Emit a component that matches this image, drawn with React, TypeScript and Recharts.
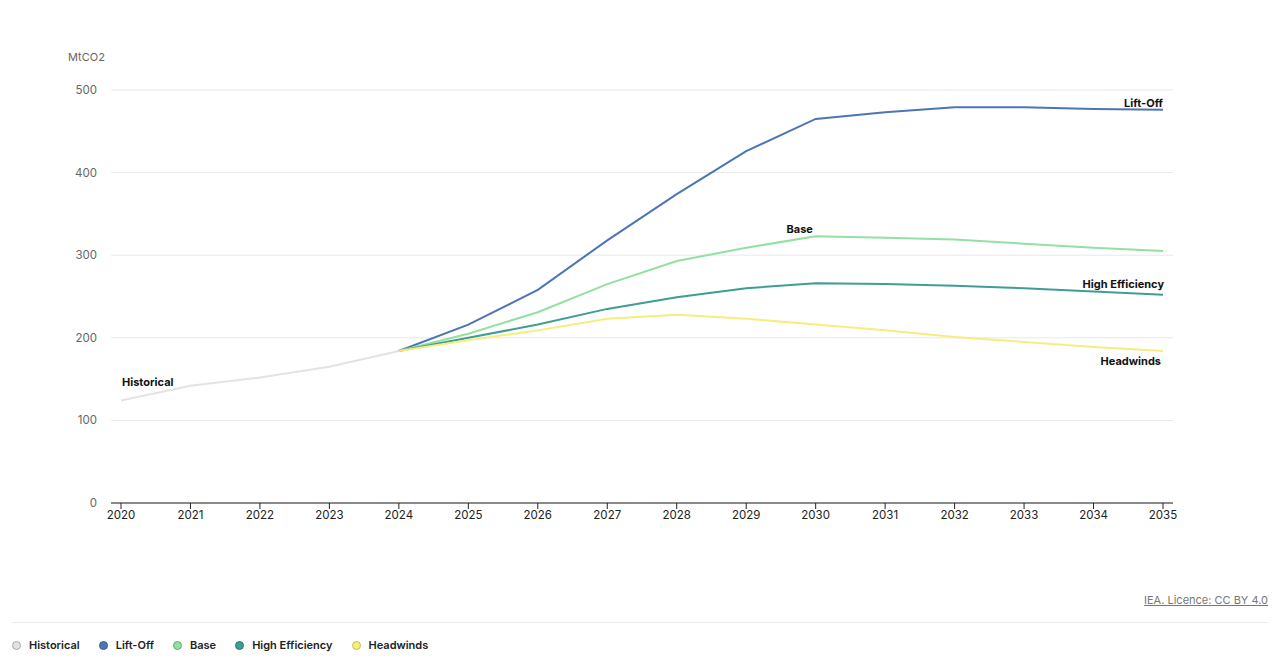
import React from "react";
import { LineChart, Line, XAxis, YAxis, CartesianGrid, Legend } from "recharts";

const years = [2020, 2021, 2022, 2023, 2024, 2025, 2026, 2027, 2028, 2029, 2030, 2031, 2032, 2033, 2034, 2035];
const historical = [124, 142, 152, 165, 184, null, null, null, null, null, null, null, null, null, null, null];
const liftOff = [null, null, null, null, 184, 216, 258, 318, 374, 426, 465, 473, 479, 479, 477, 476];
const base = [null, null, null, null, 184, 205, 231, 265, 293, 309, 323, 321, 319, 314, 309, 305];
const highEfficiency = [null, null, null, null, 184, 200, 216, 235, 249, 260, 266, 265, 263, 260, 256, 252];
const headwinds = [null, null, null, null, 184, 197, 209, 223, 228, 223, 216, 209, 201, 195, 189, 184];
const yTicks = [0, 100, 200, 300, 400, 500];

const data = years.map((y, i) => ({
  year: y,
  Historical: historical[i],
  "Lift-Off": liftOff[i],
  Base: base[i],
  "High Efficiency": highEfficiency[i],
  Headwinds: headwinds[i],
}));

const FONT = "Inter, 'Noto Sans', sans-serif";

const series = [
  { key: "Historical", color: "#e3e3e3", border: "#a8a8a8" },
  { key: "Lift-Off", color: "#4d75b3", border: "#3a5c94" },
  { key: "Base", color: "#93e0a0", border: "#5fae6c" },
  { key: "High Efficiency", color: "#3f9d92", border: "#2d7a70" },
  { key: "Headwinds", color: "#f6ee7c", border: "#c9bd45" },
];

const makeLabel = (text: string, idx: number, dx: number, dy: number, anchor: string) => (props: any) => {
  if (props.index !== idx) return null;
  return (
    <text
      x={props.x + dx}
      y={props.y + dy}
      textAnchor={anchor}
      fontFamily={FONT}
      fontSize={11}
      fontWeight={700}
      fill="#111"
    >
      {text}
    </text>
  );
};

const LegendContent = (props: any) => {
  const payload = [...(props.payload || [])].sort(
    (a: any, b: any) => series.findIndex((s) => s.key === a.value) - series.findIndex((s) => s.key === b.value)
  );
  return (
    <div style={{ display: "flex", alignItems: "center", fontFamily: FONT, fontSize: 11, fontWeight: 600, color: "#222" }}>
      {payload.map((p: any) => {
        const s = series.find((x) => x.key === p.value)!;
        return (
          <div key={p.value} style={{ display: "flex", alignItems: "center", marginRight: 19 }}>
            <span
              style={{
                display: "inline-block",
                width: 7,
                height: 7,
                borderRadius: "50%",
                background: s.color,
                border: `1px solid ${s.border}`,
                marginRight: 8,
              }}
            />
            <span>{p.value}</span>
          </div>
        );
      })}
    </div>
  );
};

export default function App() {
  return (
    <div style={{ position: "absolute", left: 0, top: 0, width: 1280, height: 667, background: "#fff" }}>
      <div style={{ position: "absolute", left: 68, top: 50, fontFamily: FONT, fontSize: 11, color: "#666" }}>MtCO2</div>
      <div
        style={{
          position: "absolute",
          right: 12,
          top: 593,
          fontFamily: FONT,
          fontSize: 11,
          color: "#777",
          textDecoration: "underline",
        }}
      >
        IEA. Licence: CC BY 4.0
      </div>
      <div style={{ position: "absolute", left: 12, width: 1256, top: 622, height: 1, background: "#ececec" }} />
      <LineChart width={1280} height={667} data={data} margin={{ top: 90, right: 107, bottom: 118, left: 60 }}>
        <CartesianGrid horizontal vertical={false} stroke="#e8e8e8" />
        <XAxis
          dataKey="year"
          type="number"
          domain={[2020, 2035]}
          ticks={years}
          padding={{ left: 10, right: 10 }}
          axisLine={{ stroke: "#222" }}
          tickLine={{ stroke: "#222" }}
          tickSize={6}
          tick={{ fontFamily: FONT, fontSize: 11.5, fill: "#222" }}
          height={30}
          interval={0}
        />
        <YAxis
          domain={[0, 500]}
          ticks={yTicks}
          width={51}
          axisLine={false}
          tickLine={false}
          tickSize={0}
          tickMargin={14}
          tick={{ fontFamily: FONT, fontSize: 11.5, fill: "#666" }}
        />
        <Legend
          verticalAlign="bottom"
          content={<LegendContent />}
          wrapperStyle={{ position: "absolute", left: 12, top: 638, width: 1200, height: 16 }}
        />
        <Line
          dataKey="Historical"
          stroke={series[0].color}
          strokeWidth={2}
          dot={false}
          type="linear"
          isAnimationActive={false}
          connectNulls={false}
          label={makeLabel("Historical", 0, 1, -15, "start")}
        />
        <Line
          dataKey="Lift-Off"
          stroke={series[1].color}
          strokeWidth={2}
          dot={false}
          type="linear"
          isAnimationActive={false}
          label={makeLabel("Lift-Off", 15, 0, -3, "end")}
        />
        <Line
          dataKey="Base"
          stroke={series[2].color}
          strokeWidth={2}
          dot={false}
          type="linear"
          isAnimationActive={false}
          label={makeLabel("Base", 10, -16, -3, "middle")}
        />
        <Line
          dataKey="High Efficiency"
          stroke={series[3].color}
          strokeWidth={2}
          dot={false}
          type="linear"
          isAnimationActive={false}
          label={makeLabel("High Efficiency", 15, 1, -7, "end")}
        />
        <Line
          dataKey="Headwinds"
          stroke={series[4].color}
          strokeWidth={2}
          dot={false}
          type="linear"
          isAnimationActive={false}
          label={makeLabel("Headwinds", 15, -2, 14, "end")}
        />
      </LineChart>
    </div>
  );
}
